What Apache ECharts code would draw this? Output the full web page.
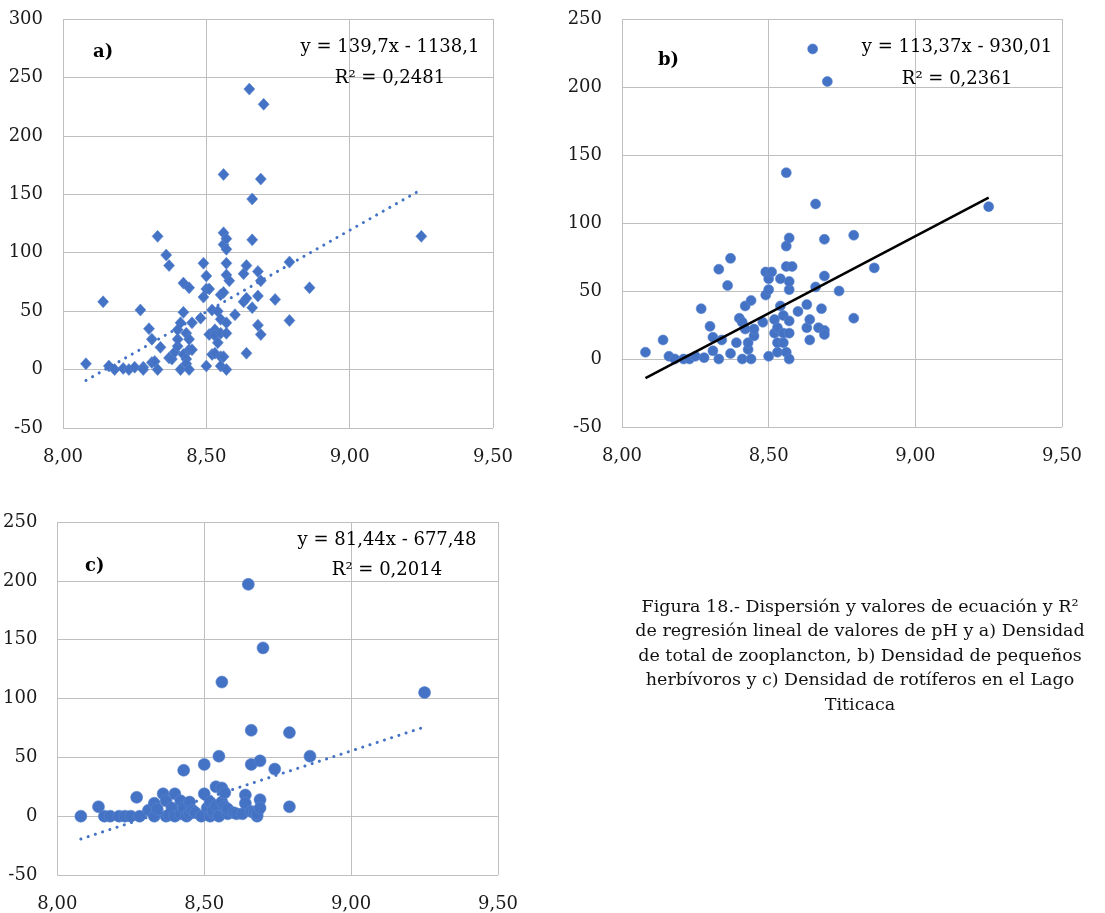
<!DOCTYPE html>
<html>
<head>
<meta charset="utf-8">
<script src="https://cdn.jsdelivr.net/npm/echarts@6/dist/echarts.min.js"></script>
<style>
  html, body { margin: 0; padding: 0; background: #fff; }
  #chart { width: 1105px; height: 913px; }
</style>
</head>
<body>
<div id="chart"></div>
<script>
  // pH vs densidad
  let pointsA = [
    [8.08, 5], [8.14, 58], [8.16, 3], [8.18, 0], [8.21, 1], [8.23, 0], [8.25, 2], [8.27, 51],
    [8.28, 2], [8.28, 0], [8.30, 35], [8.31, 26], [8.31, 6], [8.32, 7], [8.33, 114], [8.33, 0],
    [8.34, 19], [8.36, 98], [8.37, 89], [8.37, 10], [8.38, 9], [8.39, 15], [8.40, 20], [8.40, 26],
    [8.40, 34], [8.41, 0], [8.41, 40], [8.42, 49], [8.42, 74], [8.42, 13], [8.43, 9], [8.43, 31],
    [8.43, 5], [8.44, 70], [8.44, 0], [8.44, 26], [8.44, 17], [8.45, 40], [8.45, 17], [8.48, 44],
    [8.49, 91], [8.49, 62], [8.50, 80], [8.50, 3], [8.50, 69], [8.51, 69], [8.51, 30], [8.52, 51],
    [8.52, 13], [8.53, 34], [8.53, 29], [8.53, 14], [8.54, 23], [8.54, 50], [8.55, 43], [8.55, 64],
    [8.55, 11], [8.55, 3], [8.55, 31], [8.56, 66], [8.56, 117], [8.56, 167], [8.56, 107], [8.56, 11],
    [8.57, 40], [8.57, 112], [8.57, 103], [8.57, 91], [8.57, 81], [8.57, 31], [8.57, 0], [8.58, 76],
    [8.60, 47], [8.63, 82], [8.63, 58], [8.64, 14], [8.64, 89], [8.64, 61], [8.65, 240], [8.66, 146],
    [8.66, 111], [8.66, 53], [8.68, 84], [8.68, 63], [8.68, 38], [8.69, 163], [8.69, 30], [8.69, 76],
    [8.70, 227], [8.74, 60], [8.79, 92], [8.79, 42], [8.86, 70], [9.25, 114]
  ];
  let pointsB = [
    [8.08, 5], [8.14, 14], [8.16, 2], [8.18, 0], [8.21, 0], [8.23, 0], [8.25, 2], [8.27, 37],
    [8.28, 1], [8.30, 24], [8.31, 16], [8.31, 6], [8.33, 66], [8.33, 0], [8.34, 14], [8.36, 54],
    [8.37, 74], [8.37, 4], [8.39, 12], [8.40, 30], [8.41, 0], [8.41, 27], [8.42, 39], [8.42, 22],
    [8.43, 7], [8.43, 12], [8.44, 43], [8.44, 0], [8.45, 17], [8.45, 22], [8.48, 27], [8.49, 64],
    [8.49, 47], [8.50, 59], [8.50, 51], [8.50, 2], [8.51, 64], [8.52, 29], [8.52, 19], [8.53, 12],
    [8.53, 23], [8.53, 5], [8.54, 39], [8.54, 59], [8.55, 19], [8.55, 12], [8.55, 32], [8.56, 137],
    [8.56, 68], [8.56, 83], [8.56, 5], [8.57, 89], [8.57, 51], [8.57, 19], [8.57, 0], [8.57, 28],
    [8.57, 57], [8.58, 68], [8.60, 35], [8.63, 40], [8.63, 23], [8.64, 14], [8.64, 29], [8.65, 228],
    [8.66, 114], [8.66, 53], [8.67, 23], [8.68, 37], [8.69, 21], [8.69, 61], [8.69, 88], [8.69, 18],
    [8.70, 204], [8.74, 50], [8.79, 91], [8.79, 30], [8.86, 67], [9.25, 112]
  ];
  let pointsC = [
    [8.08, 0], [8.14, 8], [8.16, 0], [8.18, 0], [8.21, 0], [8.23, 0], [8.25, 0], [8.27, 16],
    [8.28, 0], [8.31, 5], [8.33, 0], [8.33, 11], [8.34, 6], [8.36, 19], [8.37, 13], [8.37, 0],
    [8.38, 1], [8.39, 7], [8.40, 19], [8.40, 0], [8.42, 13], [8.42, 2], [8.43, 39], [8.43, 7],
    [8.44, 0], [8.45, 12], [8.45, 2], [8.46, 5], [8.47, 3], [8.49, 0], [8.50, 44], [8.50, 19],
    [8.51, 7], [8.52, 12], [8.52, 0], [8.53, 3], [8.53, 5], [8.54, 9], [8.54, 25], [8.55, 51],
    [8.55, 0], [8.56, 12], [8.56, 114], [8.56, 24], [8.57, 20], [8.57, 8], [8.58, 2], [8.58, 6],
    [8.60, 3], [8.61, 2], [8.63, 2], [8.64, 18], [8.64, 11], [8.65, 197], [8.66, 44], [8.66, 73],
    [8.66, 4], [8.67, 3], [8.68, 0], [8.68, 2], [8.69, 14], [8.69, 47], [8.69, 7], [8.70, 143],
    [8.74, 40], [8.79, 71], [8.79, 8], [8.86, 51], [9.25, 105]
  ];

  // extremos de las rectas de regresion
  let trendA = [[8.08, -9.3], [9.25, 154.1]];
  let trendB = [[8.08, -14.0], [9.25, 118.7]];
  let trendC = [[8.08, -19.4], [9.25, 75.8]];

  let equations = ['y = 139,7x - 1138,1', 'y = 113,37x - 930,01', 'y = 81,44x - 677,48'];
  let r2Labels = ['R² = 0,2481', 'R² = 0,2361', 'R² = 0,2014'];
  let panelLabels = ['a)', 'b)', 'c)'];
  let yMaxList = [300, 250, 250];

  let caption = [
    'Figura 18.- Dispersión y valores de ecuación y R²',
    'de regresión lineal de valores de pH y a) Densidad',
    'de total de zooplancton, b) Densidad de pequeños',
    'herbívoros y c) Densidad de rotíferos en el Lago',
    'Titicaca'
  ];

  const FONT = 'DejaVu Serif';
  const BLUE = '#4472c4';
  const GRIDCOLOR = '#bfbfbf';

  let grids = [
    { left: 63, top: 19, width: 430, height: 409 },
    { left: 622, top: 19, width: 440, height: 408 },
    { left: 56, top: 522, width: 442, height: 382 }
  ];

  let xAxis = [];
  let yAxis = [];
  grids.forEach((g, i) => {
    xAxis.push({
      type: 'value',
      gridIndex: i,
      min: 8,
      max: 9.5,
      interval: 0.5,
      axisLine: { show: true, onZero: true, lineStyle: { color: GRIDCOLOR, width: 1 } },
      axisTick: { show: false },
      axisLabel: {
        margin: 20,
        color: '#1a1a1a',
        fontFamily: FONT,
        fontSize: 18,
        formatter: v => v.toFixed(2).replace('.', ',')
      },
      splitLine: { show: true, lineStyle: { color: GRIDCOLOR, width: 1 } }
    });
    yAxis.push({
      type: 'value',
      gridIndex: i,
      min: -50,
      max: yMaxList[i],
      interval: 50,
      axisLine: { show: false },
      axisTick: { show: false },
      axisLabel: {
        margin: 20,
        color: '#1a1a1a',
        fontFamily: FONT,
        fontSize: 18
      },
      splitLine: { show: true, lineStyle: { color: GRIDCOLOR, width: 1 } }
    });
  });

  let dotted = { color: BLUE, width: 3, type: [0.1, 7.5], cap: 'round' };
  let marker = { color: BLUE, opacity: 1, borderColor: '#5a85cf', borderWidth: 0.6 };

  let series = [
    {
      type: 'scatter', xAxisIndex: 0, yAxisIndex: 0, data: pointsA,
      symbol: 'diamond', symbolSize: [11, 12], itemStyle: marker
    },
    {
      type: 'line', xAxisIndex: 0, yAxisIndex: 0, data: trendA,
      showSymbol: false, symbol: 'none', lineStyle: dotted, silent: true
    },
    {
      type: 'scatter', xAxisIndex: 1, yAxisIndex: 1, data: pointsB,
      symbol: 'circle', symbolSize: 10, itemStyle: marker
    },
    {
      type: 'line', xAxisIndex: 1, yAxisIndex: 1, data: trendB,
      showSymbol: false, symbol: 'none', z: 3,
      lineStyle: { color: '#000', width: 2.5 }, silent: true
    },
    {
      type: 'scatter', xAxisIndex: 2, yAxisIndex: 2, data: pointsC,
      symbol: 'circle', symbolSize: 12, itemStyle: marker
    },
    {
      type: 'line', xAxisIndex: 2, yAxisIndex: 2, data: trendC,
      showSymbol: false, symbol: 'none', lineStyle: dotted, silent: true
    }
  ];

  // posiciones de los textos de cada panel
  let labelPos = [[93, 53], [658, 61], [85, 567]];
  let eqPos = [[390, 47, 78], [957, 47, 79], [387, 540, 570]];

  let graphic = [];
  panelLabels.forEach((t, i) => {
    graphic.push({
      type: 'text', left: labelPos[i][0], top: labelPos[i][1] - 10, z: 10,
      style: { text: t, font: 'bold 18px "' + FONT + '"', fill: '#000' }
    });
    graphic.push({
      type: 'text', x: eqPos[i][0], y: eqPos[i][1], z: 10,
      style: {
        text: equations[i], font: '18px "' + FONT + '"', fill: '#000',
        textAlign: 'center', textVerticalAlign: 'middle'
      }
    });
    graphic.push({
      type: 'text', x: eqPos[i][0], y: eqPos[i][2], z: 10,
      style: {
        text: r2Labels[i], font: '18px "' + FONT + '"', fill: '#000',
        textAlign: 'center', textVerticalAlign: 'middle'
      }
    });
  });
  graphic.push({
    type: 'text', x: 860, y: 595, z: 10,
    style: {
      text: caption.join('\n'), font: '17.5px "' + FONT + '"', fill: '#111',
      textAlign: 'center', lineHeight: 24.5
    }
  });

  let option = {
    backgroundColor: '#fff',
    animation: false,
    grid: grids.map(g => Object.assign({ show: false }, g)),
    xAxis: xAxis,
    yAxis: yAxis,
    series: series,
    graphic: graphic
  };

  let chart = echarts.init(document.getElementById('chart'));
  chart.setOption(option);
</script>
</body>
</html>
